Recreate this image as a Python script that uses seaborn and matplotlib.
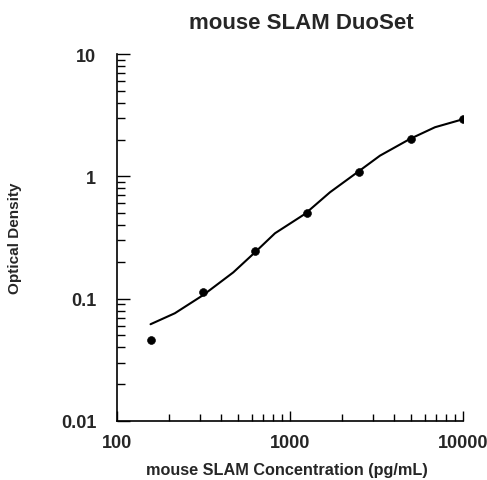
import matplotlib
matplotlib.use("Agg")
import matplotlib.pyplot as plt
import seaborn as sns
import pandas as pd
from matplotlib.ticker import LogLocator, NullFormatter, FixedLocator, FixedFormatter

# standard points
conc = [156.25, 312.5, 625, 1250, 2500, 5000, 10000]
od = [0.046, 0.113, 0.245, 0.50, 1.09, 2.01, 2.92]

# fitted curve
curve_x = [156.25, 216, 315, 470, 628, 819, 1221, 1703, 2482, 3313, 4939, 6889, 10000]
curve_y = [0.0618, 0.076, 0.107, 0.164, 0.2395, 0.3425, 0.493, 0.741, 1.093, 1.476, 2.022, 2.52, 2.93]

sns.set_theme(style="ticks")
plt.rcParams["font.family"] = ["Liberation Sans", "DejaVu Sans"]
plt.rcParams["font.weight"] = "bold"

df_pts = pd.DataFrame({"conc": conc, "od": od})
df_fit = pd.DataFrame({"conc": curve_x, "od": curve_y})

fig = plt.figure(figsize=(4.87, 4.81), dpi=100)
ax = fig.add_axes([117 / 487, 1 - 422 / 481, (463 - 117) / 487, (422 - 55) / 481])

sns.lineplot(data=df_fit, x="conc", y="od", color="black", linewidth=1.5, ax=ax)
sns.scatterplot(data=df_pts, x="conc", y="od", color="black", s=32, edgecolor="black", zorder=3, ax=ax)

ax.set_xscale("log")
ax.set_yscale("log")
ax.set_xlim(100, 10000)
ax.set_ylim(0.01, 10)

ax.xaxis.set_major_locator(FixedLocator([100, 1000, 10000]))
ax.xaxis.set_major_formatter(FixedFormatter(["100", "1000", "10000"]))
ax.xaxis.set_minor_locator(LogLocator(base=10, subs=range(2, 10)))
ax.xaxis.set_minor_formatter(NullFormatter())
ax.yaxis.set_major_locator(FixedLocator([0.01, 0.1, 1, 10]))
ax.yaxis.set_major_formatter(FixedFormatter(["0.01", "0.1", "1", "10"]))
ax.yaxis.set_minor_locator(LogLocator(base=10, subs=range(2, 10)))
ax.yaxis.set_minor_formatter(NullFormatter())

ax.tick_params(axis="both", which="both", direction="in", color="black", width=1)
ax.tick_params(axis="y", which="major", length=9, pad=15, labelsize=13)
ax.tick_params(axis="y", which="minor", length=6)
ax.tick_params(axis="x", which="major", length=7, pad=9, labelsize=13)
ax.tick_params(axis="x", which="minor", length=5)

sns.despine(ax=ax)
for s in ["left", "bottom"]:
    ax.spines[s].set_color("black")
    ax.spines[s].set_linewidth(1.2)

ax.set_xlabel("mouse SLAM Concentration (pg/mL)", fontsize=11.7, fontweight="bold", va="center")
ax.xaxis.set_label_coords(0.491, -0.131)
ax.set_ylabel("Optical Density", fontsize=11, fontweight="bold", va="center")
ax.yaxis.set_label_coords(-0.295, 0.5)
ax.set_title("mouse SLAM DuoSet", fontsize=16, fontweight="bold", x=0.532, pad=19)

fig.savefig("out.png", dpi=100)
